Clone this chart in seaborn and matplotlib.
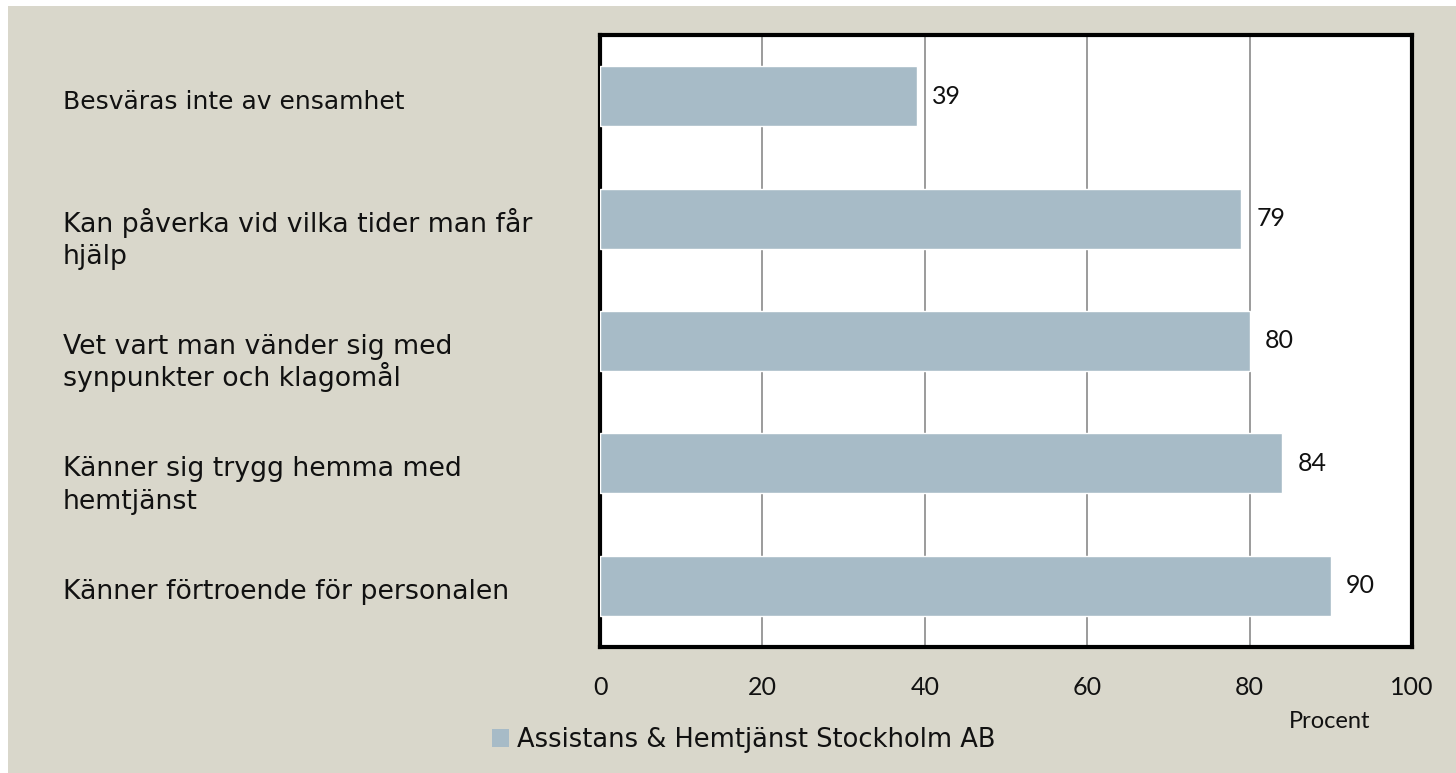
import matplotlib
matplotlib.use("Agg")
import matplotlib.pyplot as plt
from matplotlib.patches import Rectangle, Patch
import seaborn as sns
import pandas as pd

categories = [
    "Besväras inte av ensamhet",
    "Kan påverka vid vilka tider man får\nhjälp",
    "Vet vart man vänder sig med\nsynpunkter och klagomål",
    "Känner sig trygg hemma med\nhemtjänst",
    "Känner förtroende för personalen",
]
values = [39, 79, 80, 84, 90]
series_name = "Assistans & Hemtjänst Stockholm AB"
x_ticks = [0, 20, 40, 60, 80, 100]
x_label = "Procent"

BG = "#d9d7cb"
BAR = "#a7bbc7"
NUM_FONT = ["Lato", "DejaVu Sans"]
TXT_FONT = ["DejaVu Sans"]
TXT = "#111111"

sns.set_theme(style="white")
plt.rcParams["font.family"] = ["Lato", "DejaVu Sans"]

W, H = 1456, 773
PT = 72 / 100  # points per pixel
fig = plt.figure(figsize=(W / 100, H / 100), dpi=100)
fig.patch.set_facecolor("white")
fig.add_artist(Rectangle((8 / W, 0), 1 - 8 / W, 1 - 6 / H, transform=fig.transFigure,
                         facecolor=BG, edgecolor="none", zorder=-10))

ax = fig.add_axes([600 / W, 1 - 647 / H, 812 / W, 612 / H])
df = pd.DataFrame({"cat": categories, "val": values})
sns.barplot(data=df, y="cat", x="val", orient="h", color=BAR, width=0.49,
            saturation=1, ax=ax, zorder=3)

ax.set_facecolor("white")
ax.set_xlim(0, 100)
ax.set_ylim(len(categories) - 0.5, -0.5)
ax.set_xticks(x_ticks)
ax.set_xticklabels([str(t) for t in x_ticks], fontsize=18, color=TXT,
                   family=NUM_FONT)
ax.tick_params(axis="x", length=0, pad=21)
ax.set_yticks([])
ax.set_xlabel("")
ax.set_ylabel("")
for xv in x_ticks[1:-1]:
    ax.axvline(xv, color="#8a8a8a", lw=1.2, zorder=1)
for sp in ax.spines.values():
    sp.set_visible(True)
    sp.set_color("black")
    sp.set_linewidth(3)

for i, (c, v) in enumerate(zip(categories, values)):
    lines = c.split("\n")
    # the single short label is set tighter in the reference
    size = 18 if i == 0 else 19.3
    for k, line in enumerate(lines):
        ax.annotate(line, xy=(63, i), xycoords=("figure pixels", "data"),
                    xytext=(0, -(13 + 32.5 * k) * PT), textcoords="offset points",
                    ha="left", va="baseline", fontsize=size, color=TXT,
                    family=TXT_FONT, annotation_clip=False)
    ax.annotate(str(v), xy=(v, i), xycoords="data", xytext=(11, 0),
                textcoords="offset points", ha="left", va="center",
                fontsize=18, color=TXT, family=NUM_FONT)

fig.text(1330 / W, 1 - 721 / H, x_label, ha="center", va="center",
         fontsize=17, color=TXT, family=NUM_FONT)

handle = Patch(facecolor=BAR, edgecolor="none")
fig.legend([handle], [series_name], loc="center left",
           bbox_to_anchor=(492 / W, 1 - 740 / H), frameon=False,
           prop={"family": TXT_FONT, "size": 18.5},
           handlelength=0.66, handleheight=0.66,
           handletextpad=0.3, borderpad=0, borderaxespad=0,
           labelcolor=TXT)

fig.savefig("out.png", dpi=100, facecolor=fig.get_facecolor())
